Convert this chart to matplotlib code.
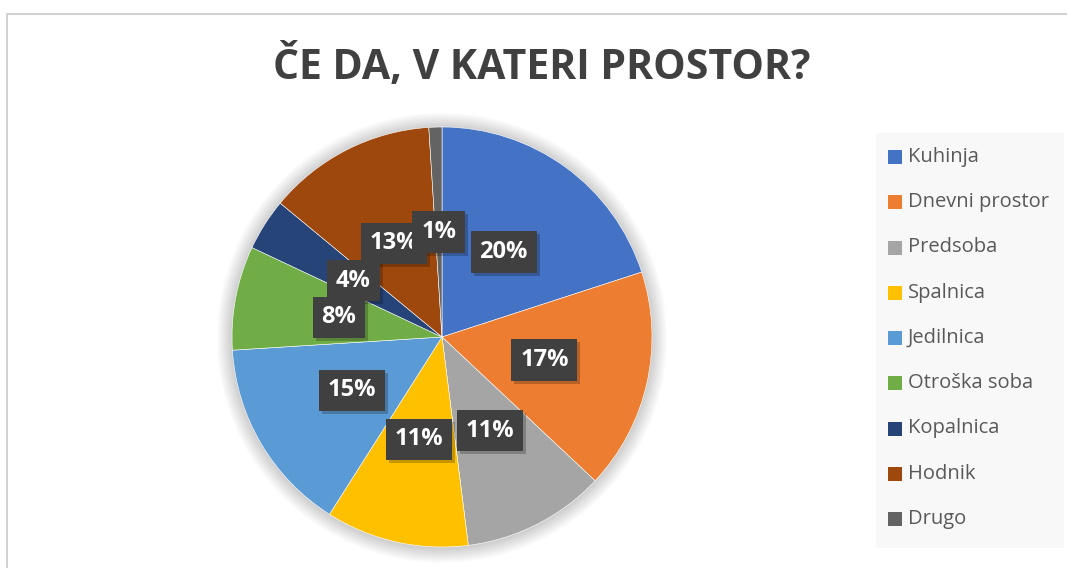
import matplotlib
matplotlib.use("Agg")
import matplotlib.pyplot as plt
from matplotlib.patches import Rectangle, Circle
from matplotlib.transforms import Affine2D

categories = ["Kuhinja", "Dnevni prostor", "Predsoba", "Spalnica", "Jedilnica",
              "Otroška soba", "Kopalnica", "Hodnik", "Drugo"]
values = [20, 17, 11, 11, 15, 8, 4, 13, 1]
colors = ["#4472C4", "#ED7D31", "#A5A5A5", "#FFC000", "#5B9BD5",
          "#70AD47", "#264478", "#9E480E", "#636363"]
title = "ČE DA, V KATERI PROSTOR?"

W, H = 1067, 568
fig = plt.figure(figsize=(W / 100, H / 100), dpi=100)
fig.patch.set_facecolor("white")

# chart border (top and left visible)
fig.add_artist(Rectangle((7 / W, -0.1), 1.2, 1 - 14 / H + 0.1, transform=fig.transFigure,
                         facecolor="none", edgecolor="#c8c8c8", linewidth=1.2))

# title
fig.text(542 / W, 1 - 67 / H, title, ha="center", va="center",
         fontsize=29.5, fontweight="bold", color="#404040", family=["Open Sans", "DejaVu Sans"])

# pie axes
cx, cy, R = 442, 337, 210
ax = fig.add_axes([(cx - R) / W, (H - cy - R) / H, 2 * R / W, 2 * R / H])

# soft shadow
for i in range(12):
    ax.add_patch(Circle((0, -0.004), 1.0 + 0.006 * (i + 1), facecolor="black",
                        edgecolor="none", alpha=0.016, zorder=0, clip_on=False))

lab_font = dict(fontsize=17, fontweight="bold", family=["Open Sans", "DejaVu Sans"])
wedges, texts, autotexts = ax.pie(values, colors=colors, startangle=90, counterclock=False,
                                  radius=1.0, autopct="%.0f%%", pctdistance=0.5,
                                  wedgeprops=dict(linewidth=0.4, edgecolor="white"),
                                  textprops=dict(color="white", **lab_font))
ax.set_xlim(-1, 1)
ax.set_ylim(-1, 1)
ax.set_aspect("equal")
ax.axis("off")

for k, t in enumerate(autotexts):
    t.set_bbox(dict(boxstyle="square,pad=0.37", facecolor="#404040", edgecolor="none", linewidth=0))
    t.set_zorder(5 + k)

# drop shadows under the label boxes, from the boxes' rendered extents
fig.canvas.draw()
rend = fig.canvas.get_renderer()
for k, t in enumerate(autotexts):
    bb = t.get_bbox_patch().get_window_extent(rend)
    fig.add_artist(Rectangle((bb.x0 + 3, bb.y0 - 3), bb.width, bb.height,
                             transform=Affine2D(), facecolor="black", alpha=0.22,
                             edgecolor="none", zorder=4.9))

# put label texts above the figure-level shadows
for t in autotexts:
    t.remove()
    fig.add_artist(t)
    t.set_transform(ax.transData)
    t.set_clip_on(False)
    t.set_zorder(6)

# legend
lx0, ly0, lx1, ly1 = 876, 133, 1064, 548
lax = fig.add_axes([lx0 / W, (H - ly1) / H, (lx1 - lx0) / W, (ly1 - ly0) / H])
lax.set_xlim(lx0, lx1)
lax.set_ylim(ly1, ly0)
lax.axis("off")
lax.add_patch(Rectangle((lx0, ly0), lx1 - lx0, ly1 - ly0, facecolor="#f8f8f8", edgecolor="none"))
row0, step = 157, 45.25
for i, (name, col) in enumerate(zip(categories, colors)):
    yy = row0 + i * step
    lax.add_patch(Rectangle((888, yy - 7), 14, 14, facecolor=col, edgecolor="none"))
    lax.text(908, yy, name, ha="left", va="center", fontsize=14.5, color="#595959",
             family=["Open Sans", "DejaVu Sans"])

fig.savefig("out.png", dpi=100)
